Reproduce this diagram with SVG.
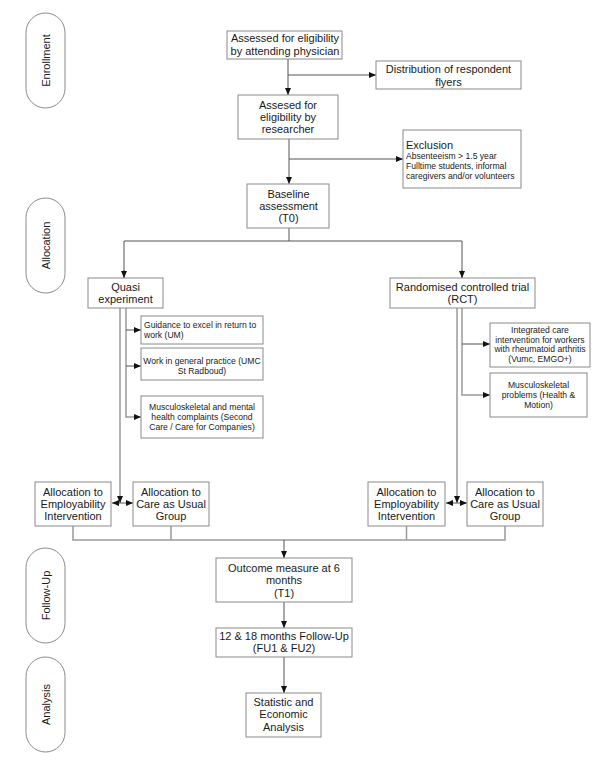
<svg xmlns="http://www.w3.org/2000/svg" width="600" height="768" viewBox="0 0 600 768">
<style>
  .box{fill:#fff;stroke:#8a8a8a;stroke-width:1}
  .pill{fill:#fff;stroke:#8a8a8a;stroke-width:1}
  .t{font-family:"Liberation Sans",Arial,sans-serif;font-size:11px;fill:#1a1a1a;text-anchor:middle}
  .s{font-family:"Liberation Sans",Arial,sans-serif;font-size:8.6px;fill:#1a1a1a;text-anchor:middle}
  .l{text-anchor:start}
  .c{fill:none;stroke:#555;stroke-width:1}
  .g{fill:none;stroke:#9a9a9a;stroke-width:1.5}
</style>
<defs>
  <marker id="ah" markerUnits="userSpaceOnUse" markerWidth="8" markerHeight="8" refX="7" refY="3.5" orient="auto">
    <path d="M0,0.5 L7,3.5 L0,6.5 Z" fill="#111"/>
  </marker>
  <marker id="as" markerUnits="userSpaceOnUse" markerWidth="8" markerHeight="8" refX="0" refY="3.5" orient="auto">
    <path d="M7,0.5 L0,3.5 L7,6.5 Z" fill="#111"/>
  </marker>
</defs>

<g id="phases">
  <g id="pill-enrollment"><rect class="pill" x="26" y="13" width="39" height="95" rx="19.5"/><text class="t" transform="translate(49.5,60.5) rotate(-90)">Enrollment</text></g>
  <g id="pill-allocation"><rect class="pill" x="26" y="198" width="39" height="95" rx="19.5"/><text class="t" transform="translate(49.5,245.5) rotate(-90)">Allocation</text></g>
  <g id="pill-followup"><rect class="pill" x="26" y="548" width="39" height="95" rx="19.5"/><text class="t" transform="translate(49.5,595.5) rotate(-90)">Follow-Up</text></g>
  <g id="pill-analysis"><rect class="pill" x="26" y="657" width="39" height="95" rx="19.5"/><text class="t" transform="translate(49.5,704.5) rotate(-90)">Analysis</text></g>
</g>

<g id="connectors">
  <path class="c" d="M288,59 V95" marker-end="url(#ah)"/>
  <path class="c" d="M288,75 H376" marker-end="url(#ah)"/>
  <path class="c" d="M289,139 V184" marker-end="url(#ah)"/>
  <path class="c" d="M289,159 H403" marker-end="url(#ah)"/>
  <path class="c" d="M289,228 V241"/>
  <path class="c" d="M124,278 V241 H462 V278" />
  <path class="c" d="M124,270 V278" marker-end="url(#ah)"/>
  <path class="c" d="M462,270 V278" marker-end="url(#ah)"/>
  <path class="g" d="M120,308 V503" marker-end="url(#ah)"/>
  <path class="g" d="M126,308 V417 H141" marker-end="url(#ah)"/>
  <path class="c" d="M126,330 H141" marker-end="url(#ah)"/>
  <path class="c" d="M126,366 H141" marker-end="url(#ah)"/>
  <path class="c" d="M112,503 H133" marker-start="url(#as)" marker-end="url(#ah)"/>
  <path class="g" d="M457,308 V503" marker-end="url(#ah)"/>
  <path class="g" d="M462,308 V395 H490" marker-end="url(#ah)"/>
  <path class="c" d="M462,344 H490" marker-end="url(#ah)"/>
  <path class="c" d="M446,503 H467" marker-start="url(#as)" marker-end="url(#ah)"/>
  <path class="g" d="M73,526 V540 H505 V526 M171,526 V540 M406.5,526 V540"/>
  <path class="c" d="M284,540 V558" marker-end="url(#ah)"/>
  <path class="c" d="M284,602 V628" marker-end="url(#ah)"/>
  <path class="c" d="M284,657 V693" marker-end="url(#ah)"/>
</g>

<g id="n-physician"><rect class="box" x="227" y="31" width="115" height="28"/><text class="t" x="285" y="42">Assessed for eligibility</text><text class="t" x="285" y="55">by attending physician</text></g>
<g id="n-flyers"><rect class="box" x="376" y="61" width="145" height="28"/><text class="t" x="448.5" y="73">Distribution of respondent</text><text class="t" x="448.5" y="86">flyers</text></g>
<g id="n-researcher"><rect class="box" x="238" y="95" width="100" height="44"/><text class="t" x="288" y="109">Assesed for</text><text class="t" x="288" y="121">eligibility by</text><text class="t" x="288" y="133">researcher</text></g>
<g id="n-exclusion"><rect class="box" x="403" y="130" width="118" height="58"/><text class="t l" x="406" y="149">Exclusion</text><text class="s l" x="406" y="158.5">Absenteeism &gt; 1.5 year</text><text class="s l" x="406" y="168.5">Fulltime students, informal</text><text class="s l" x="406" y="178.5">caregivers and/or volunteers</text></g>
<g id="n-baseline"><rect class="box" x="247" y="184" width="82" height="44"/><text class="t" x="288.5" y="198">Baseline</text><text class="t" x="288.5" y="210">assessment</text><text class="t" x="288.5" y="222">(T0)</text></g>
<g id="n-quasi"><rect class="box" x="88" y="278" width="75" height="30"/><text class="t" x="125.5" y="291">Quasi</text><text class="t" x="125.5" y="303">experiment</text></g>
<g id="n-rct"><rect class="box" x="390" y="278" width="145" height="30"/><text class="t" x="462.5" y="291">Randomised controlled trial</text><text class="t" x="462.5" y="303">(RCT)</text></g>
<g id="n-guidance"><rect class="box" x="141" y="316" width="122" height="28"/><text class="s l" x="144" y="328">Guidance to excel in return to</text><text class="s l" x="144" y="338">work (UM)</text></g>
<g id="n-general"><rect class="box" x="141" y="348" width="122" height="32"/><text class="s" x="202" y="364">Work in general practice (UMC</text><text class="s" x="202" y="374">St Radboud)</text></g>
<g id="n-mental"><rect class="box" x="141" y="396" width="122" height="42"/><text class="s" x="202" y="410">Musculoskeletal and mental</text><text class="s" x="202" y="420">health complaints (Second</text><text class="s" x="202" y="430">Care / Care for Companies)</text></g>
<g id="n-integrated"><rect class="box" x="490" y="323" width="100" height="44"/><text class="s" x="540" y="333">Integrated care</text><text class="s" x="540" y="342.5">intervention for workers</text><text class="s" x="540" y="352">with rheumatoid arthritis</text><text class="s" x="540" y="361.5">(Vumc, EMGO+)</text></g>
<g id="n-msk"><rect class="box" x="490" y="373" width="97" height="44"/><text class="s" x="538.5" y="388">Musculoskeletal</text><text class="s" x="538.5" y="398">problems (Health &amp;</text><text class="s" x="538.5" y="408">Motion)</text></g>
<g id="n-alloc-emp-q"><rect class="box" x="35" y="482" width="76" height="44"/><text class="t" x="73" y="496">Allocation to</text><text class="t" x="73" y="508">Employability</text><text class="t" x="73" y="520">Intervention</text></g>
<g id="n-alloc-cau-q"><rect class="box" x="133" y="482" width="76" height="44"/><text class="t" x="171" y="496">Allocation to</text><text class="t" x="171" y="508">Care as Usual</text><text class="t" x="171" y="520">Group</text></g>
<g id="n-alloc-emp-r"><rect class="box" x="368" y="482" width="77" height="44"/><text class="t" x="406.5" y="496">Allocation to</text><text class="t" x="406.5" y="508">Employability</text><text class="t" x="406.5" y="520">Intervention</text></g>
<g id="n-alloc-cau-r"><rect class="box" x="467" y="482" width="76" height="44"/><text class="t" x="505" y="496">Allocation to</text><text class="t" x="505" y="508">Care as Usual</text><text class="t" x="505" y="520">Group</text></g>
<g id="n-outcome"><rect class="box" x="216" y="558" width="136" height="44"/><text class="t" x="284" y="572">Outcome measure at 6</text><text class="t" x="284" y="584">months</text><text class="t" x="284" y="597">(T1)</text></g>
<g id="n-followup"><rect class="box" x="216" y="628" width="136" height="29"/><text class="t" x="284" y="640">12 &amp; 18 months Follow-Up</text><text class="t" x="284" y="652">(FU1 &amp; FU2)</text></g>
<g id="n-analysis"><rect class="box" x="246" y="693" width="75" height="44"/><text class="t" x="283.5" y="706">Statistic and</text><text class="t" x="283.5" y="718">Economic</text><text class="t" x="283.5" y="731">Analysis</text></g>
</svg>
